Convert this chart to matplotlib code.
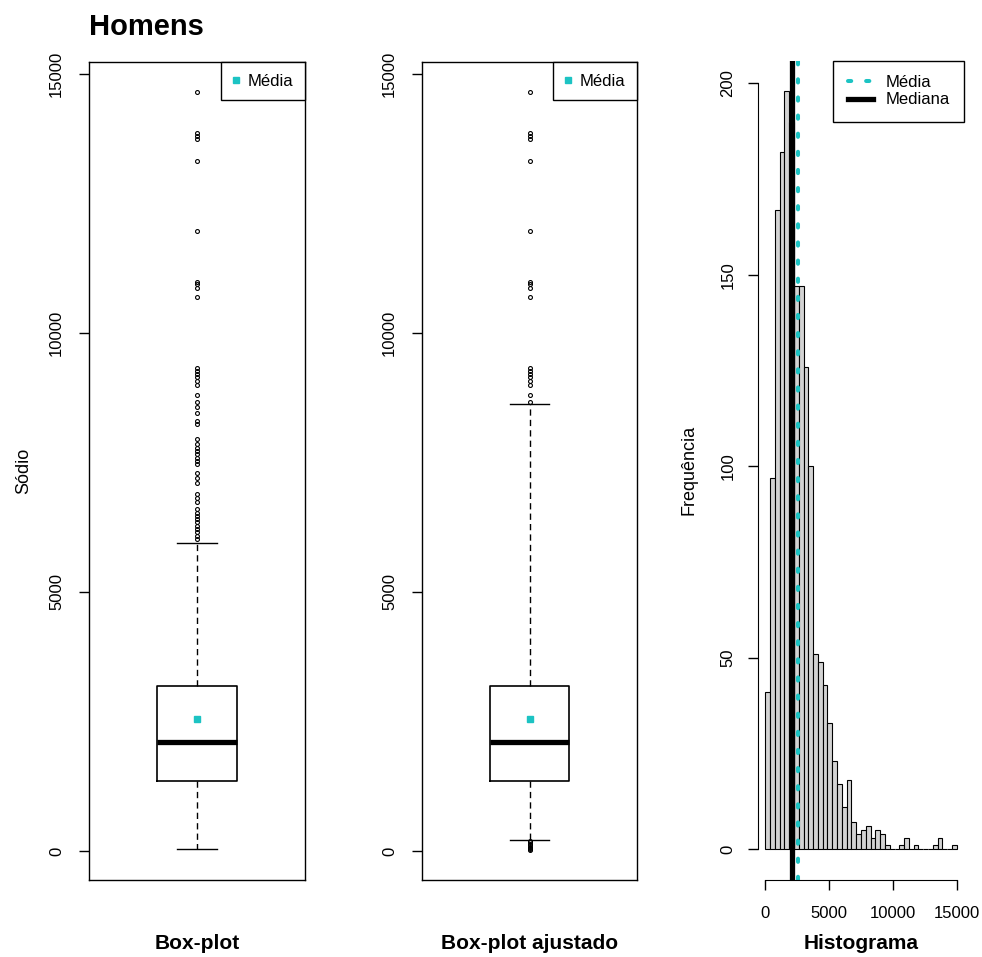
import matplotlib

matplotlib.use("Agg")
import matplotlib.pyplot as plt
from matplotlib.lines import Line2D
import numpy as np

plt.rcParams["font.family"] = ["Liberation Sans", "DejaVu Sans"]

# ----- dados (Sódio, homens) --------------------------------------------
Q1, MEDIANA, Q3, MEDIA = 1346, 2110, 3192, 2540
WHISK_CLASSICO = (30, 5942)
WHISK_AJUSTADO = (217, 8635)
OUT_ALTOS = [6019, 6083, 6148, 6212, 6276, 6340, 6404, 6468, 6532, 6596,
             6737, 6821, 6885, 7109, 7205, 7288, 7462, 7526, 7590, 7654,
             7718, 7782, 7846, 7955, 8231, 8295, 8455, 8571, 8660, 8808,
             9000, 9077, 9147, 9205, 9256, 9321, 10686, 10865, 10942,
             10987, 11962, 13314, 13737, 13788, 13852, 14641]
OUT_BAIXOS = [25, 40, 60, 80, 110, 140, 170, 195]

BIN_W = 375
HIST_COUNTS = [41, 97, 167, 182, 198, 190, 147, 147, 126, 100,
               51, 49, 43, 33, 23, 17, 11, 18, 7, 4,
               5, 6, 3, 5, 4, 1, 0, 0, 1, 3,
               0, 1, 0, 0, 0, 1, 3, 0, 0, 1]
BOX_TICKS = [0, 5000, 10000, 15000]
HIST_YTICKS = [0, 50, 100, 150, 200]
HIST_XTICKS = [0, 5000, 10000, 15000]
# -------------------------------------------------------------------------

CYAN = "#1cc3c3"
W, H = 982, 957
DOT = dict(color=CYAN, lw=2.9, ls=(0, (0.8, 3.7)), dash_capstyle="round")


def rect(x0, x1, y0, y1):
    """pixel box (top-left origin) -> figure fraction rect"""
    return [x0 / W, 1 - y1 / H, (x1 - x0) / W, (y1 - y0) / H]


def boxpanel(ax, whisk, fliers, xlabel, ylabel=None):
    stats = [dict(med=MEDIANA, q1=Q1, q3=Q3, whislo=whisk[0], whishi=whisk[1],
                  mean=MEDIA, fliers=fliers)]
    ax.bxp(stats, positions=[1], widths=0.4, capwidths=0.2, showmeans=True,
           boxprops=dict(color="black", lw=1.2),
           medianprops=dict(color="black", lw=3.8, solid_capstyle="butt"),
           whiskerprops=dict(color="black", lw=1.0, ls=(0, (4.5, 3))),
           capprops=dict(color="black", lw=1.0),
           flierprops=dict(marker="o", mfc="none", mec="black", ms=2.8, mew=0.8),
           meanprops=dict(marker="s", mfc=CYAN, mec=CYAN, ms=5))
    allv = [whisk[0], whisk[1]] + list(fliers)
    lo, hi = min(allv + OUT_BAIXOS), max(allv)
    r = hi - lo
    ax.set_ylim(lo - 0.04 * r, hi + 0.04 * r)
    ax.set_xlim(0.46, 1.54)
    ax.set_xticks([])
    ax.set_yticks(BOX_TICKS)
    ax.set_yticklabels([str(t) for t in BOX_TICKS], rotation=90, va="center")
    ax.tick_params(axis="y", length=7, width=1, pad=11, labelsize=12)
    for s in ax.spines.values():
        s.set_linewidth(1.0)
    ax.set_xlabel(xlabel, fontsize=15, fontweight="bold")
    ax.xaxis.set_label_coords(0.5, -0.066)
    if ylabel:
        ax.set_ylabel(ylabel, fontsize=13)
        ax.yaxis.set_label_coords(-0.265, 0.5)
    h = [Line2D([], [], ls="none", marker="s", mfc=CYAN, mec=CYAN, ms=5)]
    leg = ax.legend(h, ["Média"], loc="upper right", borderaxespad=0, fontsize=12,
                    fancybox=False, framealpha=1, edgecolor="black",
                    handlelength=0.4, handletextpad=0.5, borderpad=0.7)
    leg.get_frame().set_linewidth(1.0)


fig = plt.figure(figsize=(W / 100, H / 100), dpi=100)
ax1 = fig.add_axes(rect(89, 305, 62, 880))
ax2 = fig.add_axes(rect(422, 637, 62, 880))
ax3 = fig.add_axes(rect(757.6, 964.4, 60.7, 879.6))

fliers1 = [v for v in OUT_ALTOS if v > WHISK_CLASSICO[1]]
fliers2 = [v for v in OUT_ALTOS if v > WHISK_AJUSTADO[1]] + OUT_BAIXOS
boxpanel(ax1, WHISK_CLASSICO, fliers1, "Box-plot", "Sódio")
boxpanel(ax2, WHISK_AJUSTADO, fliers2, "Box-plot ajustado")

# histograma
edges = np.arange(len(HIST_COUNTS) + 1) * BIN_W
ax3.bar(edges[:-1], HIST_COUNTS, width=BIN_W, align="edge",
        color="#d3d3d3", edgecolor="black", lw=0.8)
ax3.axvline(MEDIA, **DOT)
ax3.axvline(MEDIANA, color="black", lw=3.8)
ax3.set_xlim(-0.04 * edges[-1], 1.04 * edges[-1])
ymax = max(HIST_COUNTS)
ax3.set_ylim(-0.04 * ymax, 1.04 * ymax)
for s in ("top", "right"):
    ax3.spines[s].set_visible(False)
ax3.spines["left"].set_bounds(HIST_YTICKS[0], HIST_YTICKS[-1])
ax3.spines["bottom"].set_bounds(HIST_XTICKS[0], HIST_XTICKS[-1])
ax3.set_yticks(HIST_YTICKS)
ax3.set_yticklabels([str(t) for t in HIST_YTICKS], rotation=90, va="center")
ax3.set_xticks(HIST_XTICKS)
ax3.tick_params(length=7, width=1, labelsize=12)
ax3.tick_params(axis="y", pad=9)
ax3.tick_params(axis="x", pad=12)
ax3.set_xlabel("Histograma", fontsize=15, fontweight="bold")
ax3.xaxis.set_label_coords(0.5, -0.066)
ax3.set_ylabel("Frequência", fontsize=13)
ax3.yaxis.set_label_coords(-0.29, 0.5)
h = [Line2D([], [], **DOT), Line2D([], [], color="black", lw=3.8)]
leg = ax3.legend(h, ["Média", "Mediana"], loc="upper right", borderaxespad=0,
                 fontsize=12, fancybox=False, framealpha=1, edgecolor="black",
                 handlelength=1.5, handletextpad=0.8, borderpad=0.85,
                 labelspacing=0.15)
leg.get_frame().set_linewidth(1.0)

fig.text(89 / W, 1 - 35 / H, "Homens", fontsize=21, fontweight="bold",
         va="baseline", ha="left")

fig.savefig("out.png", dpi=100)
